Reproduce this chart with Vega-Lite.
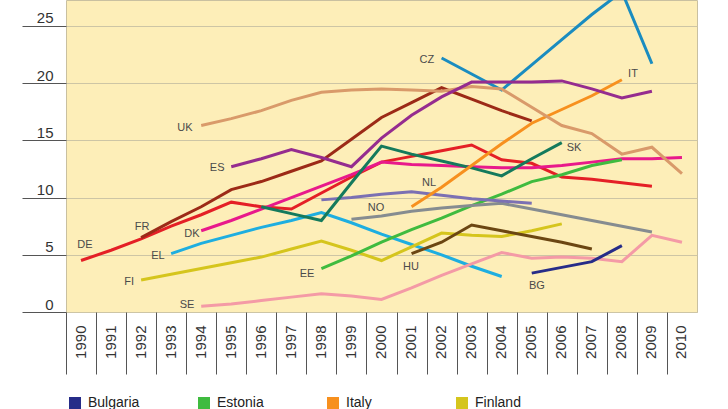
{
  "$schema": "https://vega.github.io/schema/vega-lite/v6.json",
  "width": 631,
  "height": 312,
  "autosize": {"type": "none"},
  "padding": {"left": 66, "top": 0, "right": 31, "bottom": 97},
  "background": "#ffffff",
  "config": {
    "view": {"fill": "#fdeeb8", "stroke": "#c9c0a0"},
    "font": "Liberation Sans"
  },
  "datasets": {
    "series": [
      {"c": "Germany", "y": 1990, "v": 4.5}, {"c": "Germany", "y": 1991, "v": 5.4}, {"c": "Germany", "y": 1992, "v": 6.4}, {"c": "Germany", "y": 1993, "v": 7.5}, {"c": "Germany", "y": 1994, "v": 8.5}, {"c": "Germany", "y": 1995, "v": 9.6}, {"c": "Germany", "y": 1996, "v": 9.2}, {"c": "Germany", "y": 1997, "v": 9.0}, {"c": "Germany", "y": 1998, "v": 10.4}, {"c": "Germany", "y": 1999, "v": 11.8}, {"c": "Germany", "y": 2000, "v": 13.1}, {"c": "Germany", "y": 2001, "v": 13.6}, {"c": "Germany", "y": 2002, "v": 14.1}, {"c": "Germany", "y": 2003, "v": 14.6}, {"c": "Germany", "y": 2004, "v": 13.3}, {"c": "Germany", "y": 2005, "v": 13.0}, {"c": "Germany", "y": 2006, "v": 11.8}, {"c": "Germany", "y": 2007, "v": 11.6}, {"c": "Germany", "y": 2008, "v": 11.3}, {"c": "Germany", "y": 2009, "v": 11.0},
      {"c": "France", "y": 1992, "v": 6.5}, {"c": "France", "y": 1993, "v": 7.9}, {"c": "France", "y": 1994, "v": 9.2}, {"c": "France", "y": 1995, "v": 10.7}, {"c": "France", "y": 1996, "v": 11.4}, {"c": "France", "y": 1997, "v": 12.3}, {"c": "France", "y": 1998, "v": 13.2}, {"c": "France", "y": 1999, "v": 15.1}, {"c": "France", "y": 2000, "v": 17.0}, {"c": "France", "y": 2001, "v": 18.3}, {"c": "France", "y": 2002, "v": 19.6}, {"c": "France", "y": 2003, "v": 18.6}, {"c": "France", "y": 2004, "v": 17.6}, {"c": "France", "y": 2005, "v": 16.7},
      {"c": "Denmark", "y": 1994, "v": 7.1}, {"c": "Denmark", "y": 1995, "v": 8.0}, {"c": "Denmark", "y": 1996, "v": 9.0}, {"c": "Denmark", "y": 1997, "v": 10.0}, {"c": "Denmark", "y": 1998, "v": 11.0}, {"c": "Denmark", "y": 1999, "v": 12.0}, {"c": "Denmark", "y": 2000, "v": 13.1}, {"c": "Denmark", "y": 2001, "v": 12.9}, {"c": "Denmark", "y": 2002, "v": 12.8}, {"c": "Denmark", "y": 2003, "v": 12.7}, {"c": "Denmark", "y": 2004, "v": 12.6}, {"c": "Denmark", "y": 2005, "v": 12.6}, {"c": "Denmark", "y": 2006, "v": 12.8}, {"c": "Denmark", "y": 2007, "v": 13.1}, {"c": "Denmark", "y": 2008, "v": 13.4}, {"c": "Denmark", "y": 2009, "v": 13.4}, {"c": "Denmark", "y": 2010, "v": 13.5},
      {"c": "Greece", "y": 1993, "v": 5.1}, {"c": "Greece", "y": 1994, "v": 6.0}, {"c": "Greece", "y": 1995, "v": 6.7}, {"c": "Greece", "y": 1996, "v": 7.4}, {"c": "Greece", "y": 1997, "v": 8.0}, {"c": "Greece", "y": 1998, "v": 8.7}, {"c": "Greece", "y": 1999, "v": 7.8}, {"c": "Greece", "y": 2000, "v": 6.8}, {"c": "Greece", "y": 2001, "v": 5.9}, {"c": "Greece", "y": 2002, "v": 5.0}, {"c": "Greece", "y": 2003, "v": 4.0}, {"c": "Greece", "y": 2004, "v": 3.1},
      {"c": "Finland", "y": 1992, "v": 2.8}, {"c": "Finland", "y": 1993, "v": 3.3}, {"c": "Finland", "y": 1994, "v": 3.8}, {"c": "Finland", "y": 1995, "v": 4.3}, {"c": "Finland", "y": 1996, "v": 4.8}, {"c": "Finland", "y": 1997, "v": 5.5}, {"c": "Finland", "y": 1998, "v": 6.2}, {"c": "Finland", "y": 1999, "v": 5.4}, {"c": "Finland", "y": 2000, "v": 4.5}, {"c": "Finland", "y": 2001, "v": 5.7}, {"c": "Finland", "y": 2002, "v": 6.9}, {"c": "Finland", "y": 2003, "v": 6.7}, {"c": "Finland", "y": 2004, "v": 6.6}, {"c": "Finland", "y": 2005, "v": 7.1}, {"c": "Finland", "y": 2006, "v": 7.7},
      {"c": "Sweden", "y": 1994, "v": 0.5}, {"c": "Sweden", "y": 1995, "v": 0.7}, {"c": "Sweden", "y": 1996, "v": 1.0}, {"c": "Sweden", "y": 1997, "v": 1.3}, {"c": "Sweden", "y": 1998, "v": 1.6}, {"c": "Sweden", "y": 1999, "v": 1.4}, {"c": "Sweden", "y": 2000, "v": 1.1}, {"c": "Sweden", "y": 2001, "v": 2.1}, {"c": "Sweden", "y": 2002, "v": 3.2}, {"c": "Sweden", "y": 2003, "v": 4.2}, {"c": "Sweden", "y": 2004, "v": 5.2}, {"c": "Sweden", "y": 2005, "v": 4.7}, {"c": "Sweden", "y": 2006, "v": 4.8}, {"c": "Sweden", "y": 2007, "v": 4.7}, {"c": "Sweden", "y": 2008, "v": 4.4}, {"c": "Sweden", "y": 2009, "v": 6.7}, {"c": "Sweden", "y": 2010, "v": 6.1},
      {"c": "Estonia", "y": 1998, "v": 3.8}, {"c": "Estonia", "y": 1999, "v": 4.9}, {"c": "Estonia", "y": 2000, "v": 6.1}, {"c": "Estonia", "y": 2001, "v": 7.2}, {"c": "Estonia", "y": 2002, "v": 8.2}, {"c": "Estonia", "y": 2003, "v": 9.3}, {"c": "Estonia", "y": 2004, "v": 10.3}, {"c": "Estonia", "y": 2005, "v": 11.4}, {"c": "Estonia", "y": 2006, "v": 12.0}, {"c": "Estonia", "y": 2007, "v": 12.8}, {"c": "Estonia", "y": 2008, "v": 13.3},
      {"c": "Hungary", "y": 2001, "v": 5.1}, {"c": "Hungary", "y": 2002, "v": 6.1}, {"c": "Hungary", "y": 2003, "v": 7.6}, {"c": "Hungary", "y": 2004, "v": 7.1}, {"c": "Hungary", "y": 2005, "v": 6.6}, {"c": "Hungary", "y": 2006, "v": 6.1}, {"c": "Hungary", "y": 2007, "v": 5.5},
      {"c": "Norway", "y": 1999, "v": 8.1}, {"c": "Norway", "y": 2000, "v": 8.4}, {"c": "Norway", "y": 2001, "v": 8.8}, {"c": "Norway", "y": 2002, "v": 9.1}, {"c": "Norway", "y": 2003, "v": 9.3}, {"c": "Norway", "y": 2004, "v": 9.5}, {"c": "Norway", "y": 2005, "v": 9.0}, {"c": "Norway", "y": 2006, "v": 8.5}, {"c": "Norway", "y": 2007, "v": 8.0}, {"c": "Norway", "y": 2008, "v": 7.5}, {"c": "Norway", "y": 2009, "v": 7.0},
      {"c": "Netherlands", "y": 1998, "v": 9.8}, {"c": "Netherlands", "y": 1999, "v": 10.0}, {"c": "Netherlands", "y": 2000, "v": 10.3}, {"c": "Netherlands", "y": 2001, "v": 10.5}, {"c": "Netherlands", "y": 2002, "v": 10.2}, {"c": "Netherlands", "y": 2003, "v": 9.9}, {"c": "Netherlands", "y": 2004, "v": 9.7}, {"c": "Netherlands", "y": 2005, "v": 9.5},
      {"c": "Bulgaria", "y": 2005, "v": 3.4}, {"c": "Bulgaria", "y": 2006, "v": 3.9}, {"c": "Bulgaria", "y": 2007, "v": 4.4}, {"c": "Bulgaria", "y": 2008, "v": 5.8},
      {"c": "Slovakia", "y": 1996, "v": 9.2}, {"c": "Slovakia", "y": 1997, "v": 8.6}, {"c": "Slovakia", "y": 1998, "v": 8.0}, {"c": "Slovakia", "y": 1999, "v": 11.3}, {"c": "Slovakia", "y": 2000, "v": 14.5}, {"c": "Slovakia", "y": 2001, "v": 13.8}, {"c": "Slovakia", "y": 2002, "v": 13.2}, {"c": "Slovakia", "y": 2003, "v": 12.6}, {"c": "Slovakia", "y": 2004, "v": 11.9}, {"c": "Slovakia", "y": 2005, "v": 13.4}, {"c": "Slovakia", "y": 2006, "v": 14.8},
      {"c": "Czech Republic", "y": 2002, "v": 22.2}, {"c": "Czech Republic", "y": 2003, "v": 20.8}, {"c": "Czech Republic", "y": 2004, "v": 19.4}, {"c": "Czech Republic", "y": 2005, "v": 21.6}, {"c": "Czech Republic", "y": 2006, "v": 23.8}, {"c": "Czech Republic", "y": 2007, "v": 26.0}, {"c": "Czech Republic", "y": 2008, "v": 28.0}, {"c": "Czech Republic", "y": 2009, "v": 21.7},
      {"c": "Italy", "y": 2001, "v": 9.2}, {"c": "Italy", "y": 2002, "v": 10.9}, {"c": "Italy", "y": 2003, "v": 12.8}, {"c": "Italy", "y": 2004, "v": 14.7}, {"c": "Italy", "y": 2005, "v": 16.5}, {"c": "Italy", "y": 2006, "v": 17.7}, {"c": "Italy", "y": 2007, "v": 18.9}, {"c": "Italy", "y": 2008, "v": 20.3},
      {"c": "United Kingdom", "y": 1994, "v": 16.3}, {"c": "United Kingdom", "y": 1995, "v": 16.9}, {"c": "United Kingdom", "y": 1996, "v": 17.6}, {"c": "United Kingdom", "y": 1997, "v": 18.5}, {"c": "United Kingdom", "y": 1998, "v": 19.2}, {"c": "United Kingdom", "y": 1999, "v": 19.4}, {"c": "United Kingdom", "y": 2000, "v": 19.5}, {"c": "United Kingdom", "y": 2001, "v": 19.4}, {"c": "United Kingdom", "y": 2002, "v": 19.3}, {"c": "United Kingdom", "y": 2003, "v": 19.7}, {"c": "United Kingdom", "y": 2004, "v": 19.5}, {"c": "United Kingdom", "y": 2005, "v": 17.9}, {"c": "United Kingdom", "y": 2006, "v": 16.3}, {"c": "United Kingdom", "y": 2007, "v": 15.6}, {"c": "United Kingdom", "y": 2008, "v": 13.8}, {"c": "United Kingdom", "y": 2009, "v": 14.4}, {"c": "United Kingdom", "y": 2010, "v": 12.1},
      {"c": "Spain", "y": 1995, "v": 12.7}, {"c": "Spain", "y": 1996, "v": 13.4}, {"c": "Spain", "y": 1997, "v": 14.2}, {"c": "Spain", "y": 1998, "v": 13.5}, {"c": "Spain", "y": 1999, "v": 12.7}, {"c": "Spain", "y": 2000, "v": 15.2}, {"c": "Spain", "y": 2001, "v": 17.2}, {"c": "Spain", "y": 2002, "v": 18.8}, {"c": "Spain", "y": 2003, "v": 20.1}, {"c": "Spain", "y": 2004, "v": 20.1}, {"c": "Spain", "y": 2005, "v": 20.1}, {"c": "Spain", "y": 2006, "v": 20.2}, {"c": "Spain", "y": 2007, "v": 19.5}, {"c": "Spain", "y": 2008, "v": 18.7}, {"c": "Spain", "y": 2009, "v": 19.3}
    ],
    "labels": [
      {"code": "DE", "y": 1990.13, "v": 5.85},
      {"code": "FR", "y": 1992.03, "v": 7.4},
      {"code": "DK", "y": 1993.69, "v": 6.8},
      {"code": "EL", "y": 1992.56, "v": 4.9},
      {"code": "FI", "y": 1991.6, "v": 2.6},
      {"code": "SE", "y": 1993.53, "v": 0.6},
      {"code": "UK", "y": 1993.46, "v": 16.1},
      {"code": "ES", "y": 1994.53, "v": 12.6},
      {"code": "CZ", "y": 2001.51, "v": 22.0},
      {"code": "IT", "y": 2008.37, "v": 20.8},
      {"code": "SK", "y": 2006.41, "v": 14.3},
      {"code": "NL", "y": 2001.58, "v": 11.3},
      {"code": "NO", "y": 1999.82, "v": 9.1},
      {"code": "EE", "y": 1997.52, "v": 3.3},
      {"code": "HU", "y": 2000.98, "v": 3.9},
      {"code": "BG", "y": 2005.17, "v": 2.3}
    ]
  },
  "layer": [
    {
      "data": {"name": "series"},
      "mark": {"type": "line", "strokeWidth": 3, "clip": true},
      "encoding": {
        "x": {
          "field": "y", "type": "quantitative",
          "scale": {"domain": [1989.5, 2010.5], "nice": false, "zero": false},
          "axis": {
            "title": null,
            "values": [1989.5, 1990.5, 1991.5, 1992.5, 1993.5, 1994.5, 1995.5, 1996.5, 1997.5, 1998.5, 1999.5, 2000.5, 2001.5, 2002.5, 2003.5, 2004.5, 2005.5, 2006.5, 2007.5, 2008.5, 2009.5],
            "tickCount": 50,
            "labelExpr": "toString(datum.value + 0.5)",
            "labelAngle": -90,
            "labelOffset": 14,
            "labelPadding": -49,
            "tickSize": 62,
            "tickColor": "#555555",
            "tickWidth": 1,
            "domain": false,
            "grid": false,
            "labelFontSize": 15,
            "labelColor": "#333333",
            "labelFlush": false,
            "labelOverlap": false,
            "labelBound": false
          }
        },
        "y": {
          "field": "v", "type": "quantitative",
          "scale": {"domain": [0, 27.27], "nice": false},
          "axis": {
            "title": null,
            "values": [0, 5, 10, 15, 20, 25],
            "tickCount": 20,
            "tickSize": 44,
            "tickColor": "#555555",
            "tickWidth": 1,
            "labelPadding": -31,
            "labelOffset": -3,
            "labelBaseline": "alphabetic",
            "labelFontSize": 15,
            "labelColor": "#333333",
            "grid": true,
            "gridColor": "#cdc5a5",
            "gridWidth": 1,
            "domain": false
          }
        },
        "color": {
          "field": "c", "type": "nominal",
          "scale": {
            "domain": ["Bulgaria", "Estonia", "Italy", "Finland", "Germany", "France", "Denmark", "Greece", "Sweden", "Hungary", "Norway", "Netherlands", "Slovakia", "Czech Republic", "United Kingdom", "Spain"],
            "range": ["#262c88", "#3fbb3f", "#f7901e", "#d5c51d", "#e41f26", "#9c2a17", "#e8198b", "#1eaee0", "#f49aa6", "#6b4612", "#868c90", "#7b70b3", "#147a5c", "#1a8cc0", "#d99a6a", "#952c8f"]
          },
          "legend": {
            "orient": "none",
            "legendX": 2,
            "legendY": 396,
            "direction": "horizontal",
            "columns": 4,
            "gridAlign": "all",
            "columnPadding": 57,
            "values": ["Bulgaria", "Estonia", "Italy", "Finland"],
            "title": null,
            "symbolType": "square",
            "symbolSize": 144,
            "symbolStrokeWidth": 0,
            "labelFontSize": 14,
            "labelColor": "#222222",
            "labelOffset": 6,
            "encode": {"symbols": {"update": {"fill": {"field": "value", "scale": "color"}, "fillOpacity": {"value": 1}}}}
          }
        }
      }
    },
    {
      "data": {"name": "labels"},
      "mark": {"type": "text", "fontSize": 11, "color": "#4a4a4a"},
      "encoding": {
        "x": {"field": "y", "type": "quantitative"},
        "y": {"field": "v", "type": "quantitative"},
        "text": {"field": "code"}
      }
    }
  ]
}
